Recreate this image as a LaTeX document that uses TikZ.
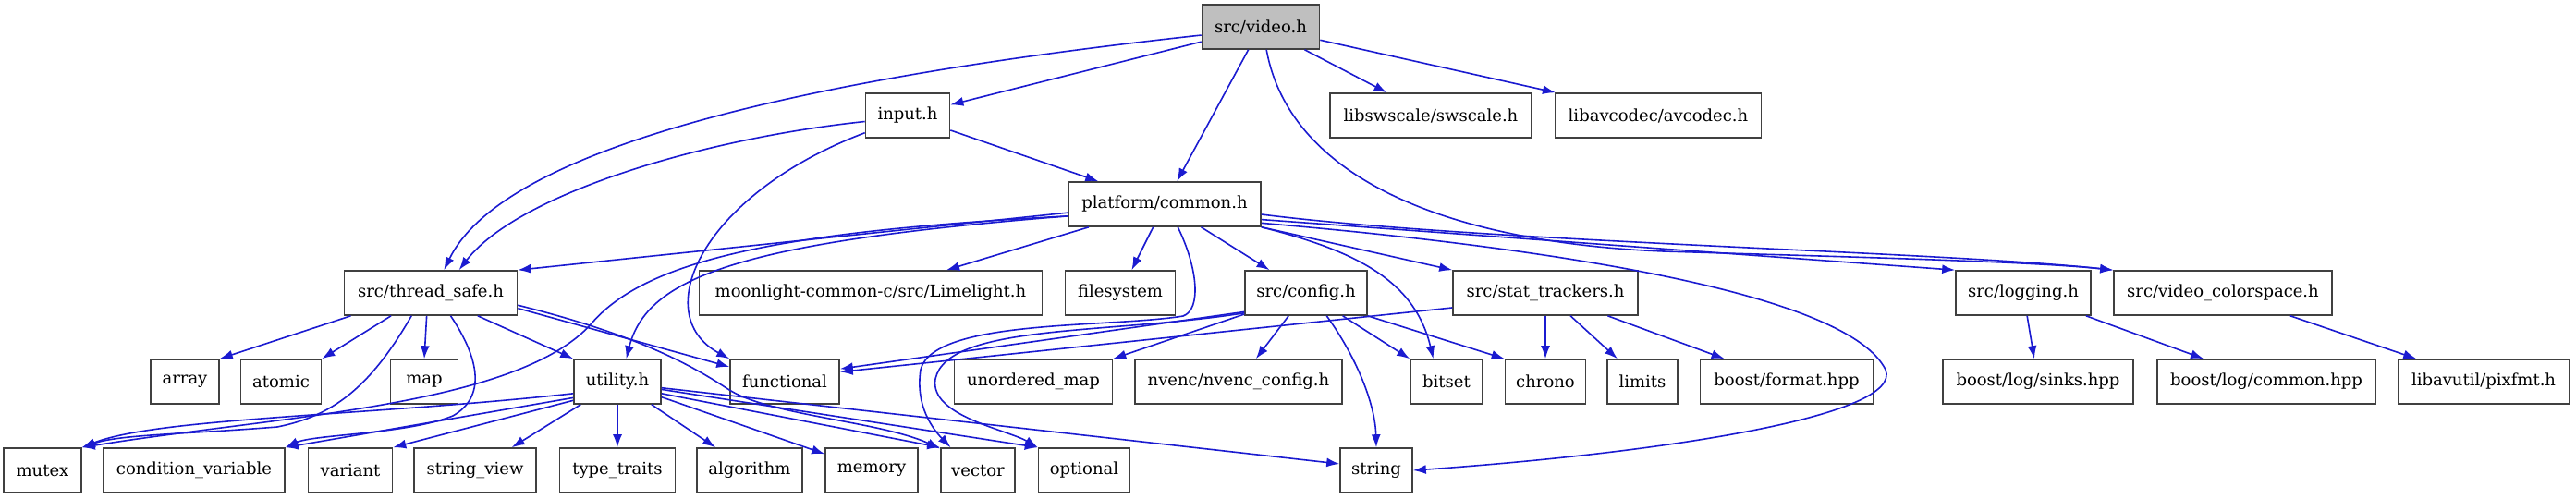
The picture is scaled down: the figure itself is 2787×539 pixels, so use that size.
\documentclass[tikz,border=0pt]{standalone}
\usepackage{fontspec}
\setmainfont{DejaVu Serif}
\usetikzlibrary{arrows.meta}
\definecolor{edgeblue}{RGB}{27,27,208}
\definecolor{boxline}{RGB}{64,64,64}
\definecolor{rootfill}{RGB}{191,191,191}

\begin{document}
\begin{tikzpicture}[x=1pt,y=-1pt]
    \tikzset{file/.style={draw=boxline,fill=white,line width=1.6pt,minimum height=48pt,inner sep=0pt,font=\fontsize{18}{22}\selectfont}}
    \tikzset{root/.style={file,fill=rootfill}}
    \tikzset{dep/.style={draw=edgeblue,line width=1.6pt,-{Latex[length=14pt,width=10pt]}}}
    \useasboundingbox (0,0) rectangle (2787,539);
    % rows
    \node[root,minimum width=127] (video) at (1364,29) {src/video.h};
    \node[file,minimum width=91] (input) at (982,125) {input.h};
    \node[file,minimum width=218] (swscale) at (1548,125) {libswscale/swscale.h};
    \node[file,minimum width=223] (avcodec) at (1794,125) {libavcodec/avcodec.h};
    \node[file,minimum width=208] (common) at (1260,221) {platform/common.h};
    \node[file,minimum width=187] (threadsafe) at (466,317) {src/thread\_safe.h};
    \node[file,minimum width=371] (limelight) at (942,317) {moonlight-common-c/src/Limelight.h};
    \node[file,minimum width=119] (filesystem) at (1212,317) {filesystem};
    \node[file,minimum width=132] (config) at (1413,317) {src/config.h};
    \node[file,minimum width=200] (stattrackers) at (1672,317) {src/stat\_trackers.h};
    \node[file,minimum width=146] (logging) at (2189,317) {src/logging.h};
    \node[file,minimum width=236] (colorspace) at (2405,317) {src/video\_colorspace.h};
    \node[file,minimum width=74] (array) at (200,413) {array};
    \node[file,minimum width=87] (atomic) at (304,413) {atomic};
    \node[file,minimum width=73] (map) at (459,413) {map};
    \node[file,minimum width=94] (utility) at (668,413) {utility.h};
    \node[file,minimum width=118] (functional) at (849,413) {functional};
    \node[file,minimum width=171] (unorderedmap) at (1118,413) {unordered\_map};
    \node[file,minimum width=224] (nvenc) at (1340,413) {nvenc/nvenc\_config.h};
    \node[file,minimum width=78] (bitset) at (1565,413) {bitset};
    \node[file,minimum width=87] (chrono) at (1672,413) {chrono};
    \node[file,minimum width=76] (limits) at (1777,413) {limits};
    \node[file,minimum width=187] (format) at (1933,413) {boost/format.hpp};
    \node[file,minimum width=206] (sinks) at (2205,413) {boost/log/sinks.hpp};
    \node[file,minimum width=236] (logcommon) at (2452,413) {boost/log/common.hpp};
    \node[file,minimum width=185] (pixfmt) at (2687,413) {libavutil/pixfmt.h};
    \node[file,minimum width=84] (mutex) at (46,509) {mutex};
    \node[file,minimum width=196] (condvar) at (210,509) {condition\_variable};
    \node[file,minimum width=91] (variant) at (379,509) {variant};
    \node[file,minimum width=132] (stringview) at (514,509) {string\_view};
    \node[file,minimum width=125] (typetraits) at (668,509) {type\_traits};
    \node[file,minimum width=114] (algorithm) at (811,509) {algorithm};
    \node[file,minimum width=100] (memory) at (943,509) {memory};
    \node[file,minimum width=80] (vector) at (1058,509) {vector};
    \node[file,minimum width=99] (optional) at (1173,509) {optional};
    \node[file,minimum width=78] (string) at (1489,509) {string};
    % src/video.h
    \draw[dep] (video.188) .. controls (820,90) and (540,170) .. (threadsafe.60);
    \draw[dep] (video) -- (input);
    \draw[dep] (video) -- (common);
    \draw[dep] (video.284) .. controls (1395,190) and (1560,262) .. (1800,272) .. controls (2000,278) and (2200,283) .. (colorspace.north west);
    \draw[dep] (video) -- (swscale);
    \draw[dep] (video) -- (avcodec);
    % input.h
    \draw[dep] (input.188) .. controls (760,150) and (560,210) .. (threadsafe.39);
    \draw[dep] (input.202) .. controls (760,210) and (700,340) .. (functional.north west);
    \draw[dep] (input) -- (common);
    % platform/common.h
    \draw[dep] (common.185) -- (threadsafe.north east);
    \draw[dep] (common.187) .. controls (800,262) and (700,300) .. (utility.69);
    \draw[dep] (common.187) .. controls (850,250) and (700,280) .. (640,350) .. controls (560,440) and (300,450) .. (mutex.north east);
    \draw[dep] (common) -- (limelight);
    \draw[dep] (common) -- (filesystem);
    \draw[dep] (common.300) .. controls (1296,290) and (1300,335) .. (1280,342) .. controls (1200,355) and (1010,345) .. (996,400) .. controls (990,440) and (1010,465) .. (vector.140);
    \draw[dep] (common) -- (config);
    \draw[dep] (common.south east) .. controls (1460,270) and (1530,300) .. (bitset.120);
    \draw[dep] (common.south east) -- (stattrackers.north west);
    \draw[dep] (common.349) .. controls (1700,270) and (2000,320) .. (2040,400) .. controls (2060,450) and (1800,490) .. (string.east);
    \draw[dep] (common.351) -- (logging.north west);
    \draw[dep] (common.354) .. controls (1600,262) and (2100,272) .. (colorspace.north west);
    % src/config.h
    \draw[dep] (config.197) -- (functional.13);
    \draw[dep] (config.199) -- (unorderedmap.north east);
    \draw[dep] (config) -- (nvenc);
    \draw[dep] (config.198) .. controls (1200,362) and (1025,350) .. (1012,410) .. controls (1005,450) and (1090,465) .. (optional.north west);
    \draw[dep] (config.312) .. controls (1470,390) and (1488,440) .. (string.north);
    \draw[dep] (config.328) -- (bitset.north west);
    \draw[dep] (config.south east) -- (chrono.north west);
    % src/stat_trackers.h
    \draw[dep] (stattrackers.189) -- (functional.10);
    \draw[dep] (stattrackers) -- (chrono);
    \draw[dep] (stattrackers) -- (limits);
    \draw[dep] (stattrackers) -- (format);
    % src/logging.h, src/video_colorspace.h
    \draw[dep] (logging) -- (sinks);
    \draw[dep] (logging) -- (logcommon);
    \draw[dep] (colorspace) -- (pixfmt);
    % src/thread_safe.h
    \draw[dep] (threadsafe.196) -- (array.north east);
    \draw[dep] (threadsafe.210) -- (atomic.north east);
    \draw[dep] (threadsafe.260) -- (map.north);
    \draw[dep] (threadsafe.334) -- (utility.north west);
    \draw[dep] (threadsafe.350) -- (functional.165);
    \draw[dep] (threadsafe.352) .. controls (680,360) and (740,390) .. (786,420) .. controls (830,450) and (950,455) .. (vector.150);
    \draw[dep] (threadsafe.230) .. controls (400,420) and (360,450) .. (300,462) .. controls (200,470) and (130,470) .. (mutex.north east);
    \draw[dep] (threadsafe.311) .. controls (520,390) and (525,430) .. (490,450) .. controls (440,470) and (340,470) .. (condvar.north east);
    % utility.h
    \draw[dep] (utility.195) .. controls (400,450) and (170,452) .. (mutex.north east);
    \draw[dep] (utility.200) -- (condvar.north east);
    \draw[dep] (utility.203) -- (variant.north east);
    \draw[dep] (utility) -- (stringview);
    \draw[dep] (utility) -- (typetraits);
    \draw[dep] (utility) -- (algorithm);
    \draw[dep] (utility) -- (memory);
    \draw[dep] (utility.345) -- (vector.north west);
    \draw[dep] (utility.350) -- (optional.north west);
    \draw[dep] (utility.352) -- (string.170);
\end{tikzpicture}
\end{document}
